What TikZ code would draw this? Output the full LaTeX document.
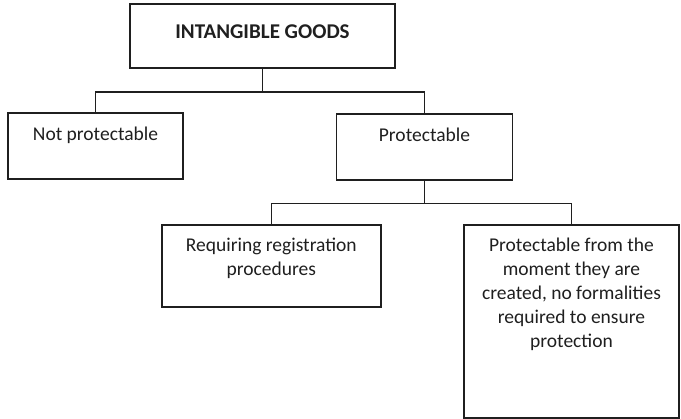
\documentclass[tikz,border=0pt]{standalone}
\usepackage{fontspec}
\setmainfont{Carlito}
\begin{document}
\begin{tikzpicture}[x=1pt,y=-1pt,
  box/.style={draw=black!88,line width=1.4pt,rectangle,inner sep=0pt},
  boxtext/.style={anchor=base,align=center,inner sep=0pt,
    font=\fontsize{19.5}{24}\selectfont,text=black!88},
  link/.style={draw=black!88,line width=1.4pt}]
\useasboundingbox (0,0) rectangle (681,419);
% boxes
\node[box,minimum width=265pt,minimum height=64pt] (top)  at (262.5,36) {};
\node[box,minimum width=175pt,minimum height=66pt] (np)   at (95.5,146) {};
\node[box,minimum width=176pt,minimum height=66pt] (prot) at (424.5,147) {};
\node[box,minimum width=219pt,minimum height=82pt] (req)  at (271.3,266) {};
\node[box,minimum width=215pt,minimum height=193pt] (form) at (571.5,321.5) {};
% texts (base anchor sits on the last line, 24pt per line)
\node[boxtext,font=\fontsize{21}{24}\selectfont\bfseries] (ttop) at ([yshift=-35.7pt]top.north) {INTANGIBLE GOODS};
\node[boxtext] (tnp) at ([yshift=-28.5pt]np.north) {Not protectable};
\node[boxtext] (tprot) at ([yshift=-28.5pt]prot.north) {Protectable};
\node[boxtext] (treq) at ([yshift=-51.7pt]req.north) {Requiring registration\\procedures};
\node[boxtext] (tform) at ([yshift=-123.7pt]form.north) {Protectable from the\\moment they are\\created, no formalities\\required to ensure\\protection};
% connectors
\coordinate (j1) at (262.5,92);
\coordinate (j2) at (424.5,203.3);
\draw[link] (top.south) -- (j1);
\draw[link] (np.north) |- (j1) -| (prot.north);
\draw[link] (prot.south) -- (j2);
\draw[link] (req.north) |- (j2) -| (form.north);
\end{tikzpicture}
\end{document}
